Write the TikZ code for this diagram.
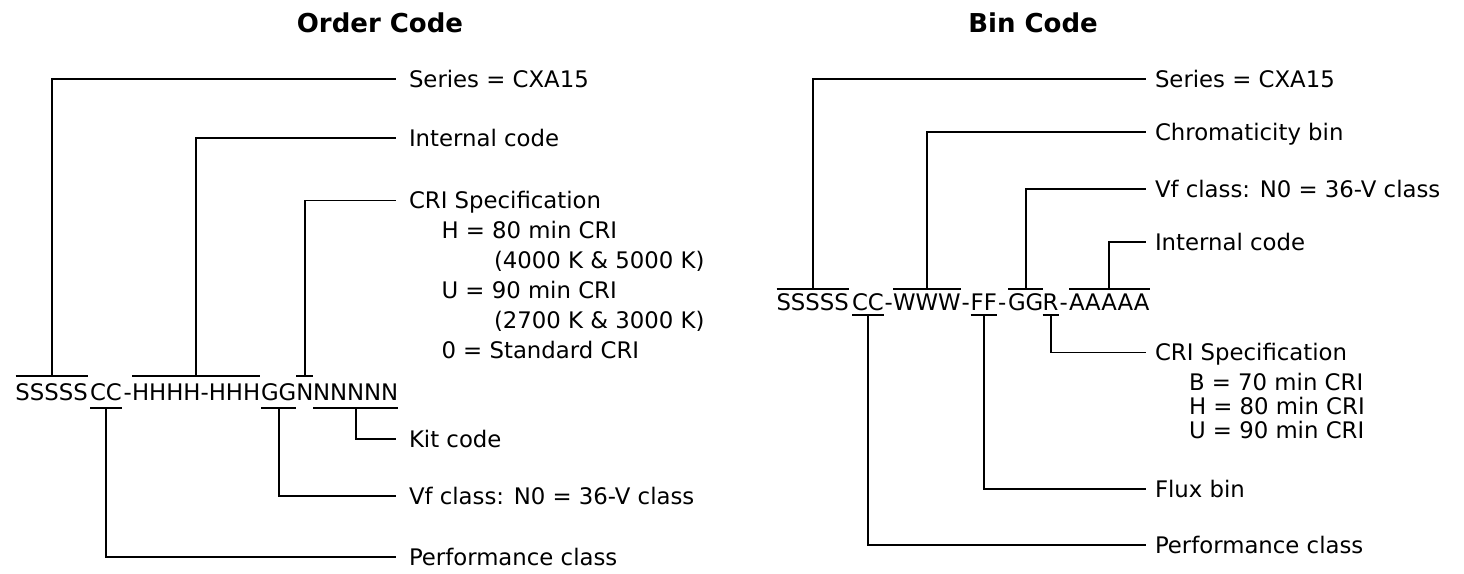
\documentclass[tikz,border=0pt]{standalone}
\usepackage{fontspec}
\setmainfont{DejaVu Sans}
\begin{document}
\begin{tikzpicture}[x=1pt,y=-1pt,line width=1.8pt,
  txt/.style={font=\fontsize{22.8pt}{27pt}\selectfont, inner sep=0pt, outer sep=0pt, text height=16.6pt, text depth=0pt},
  seg/.style={txt, anchor=base west},
  lab/.style={txt, anchor=west},
  ttl/.style={font=\fontsize{26pt}{30pt}\selectfont\bfseries, inner sep=0pt, outer sep=0pt, anchor=center}]
\useasboundingbox (0,0) rectangle (1464,573);

% titles
\node[ttl] (t1) at (380,23) {Order Code};
\node[ttl] (t2) at (1033,23) {Bin Code};

% ---------------- Order code ----------------
\node[seg] (ls) at (15.5,400.3) {SSSSS};
\node[seg] (lc) at (90,400.3) {CC};
\node[seg] (ld1) at (123.5,400.3) {-};
\node[seg] (lh) at (132,400.3) {HHHH-HHH};
\node[seg] (lg) at (261,400.3) {GG};
\node[seg] (ln) at (296.3,400.3) {N};
\node[seg] (lk) at (313,400.3) {NNNNN};

\node[lab] (Lser) at (409,79) {Series = CXA15};
\node[lab] (Lint) at (409,138) {Internal code};
\node[lab] (Lcri) at (409,200.5) {CRI Specification};
\node[lab] (Lcri1) at (441.5,230) {H = 80 min CRI};
\node[lab] (Lcri2) at (494,260) {(4000 K \& 5000 K)};
\node[lab] (Lcri3) at (441.5,290) {U = 90 min CRI};
\node[lab] (Lcri4) at (494,320) {(2700 K \& 3000 K)};
\node[lab] (Lcri5) at (441.5,350) {0 = Standard CRI};
\node[lab] (Lkit) at (409,439.3) {Kit code};
\node[lab] (Lvf) at (409,496) {Vf class: N0 = 36-V class};
\node[lab] (Lperf) at (409,556.7) {Performance class};

% overlines / underlines
\draw ([yshift=7.7pt]ls.north west) -- ([yshift=7.7pt]ls.north east);
\draw ([yshift=7.7pt]lh.north west) -- ([yshift=7.7pt]lh.north east);
\draw ([yshift=7.7pt]ln.north west) -- ([yshift=7.7pt]ln.north east);
\draw ([yshift=-7.7pt]lc.south west) -- ([yshift=-7.7pt]lc.south east);
\draw ([yshift=-7.7pt]lg.south west) -- ([yshift=-7.7pt]lg.south east);
\draw ([yshift=-7.7pt]lk.south west) -- ([yshift=-7.7pt]lk.south east);

% connectors
\draw ([yshift=7.7pt]ls.north) |- ([xshift=-13pt]Lser.west);
\draw ([yshift=7.7pt]lh.north) |- ([xshift=-13pt]Lint.west);
\draw ([yshift=7.7pt]ln.north) |- ([xshift=-13pt]Lcri.west);
\draw ([yshift=-7.7pt]lk.south) |- ([xshift=-13pt]Lkit.west);
\draw ([yshift=-7.7pt]lg.south) |- ([xshift=-13pt]Lvf.west);
\draw ([yshift=-7.7pt]lc.south) |- ([xshift=-13pt]Lperf.west);

% ---------------- Bin code ----------------
\node[seg] (rs) at (776.5,310.3) {SSSSS};
\node[seg] (rc) at (852,310.3) {CC};
\node[seg] (rd1) at (884.5,310.3) {-};
\node[seg] (rw) at (893,310.3) {WWW};
\node[seg] (rd2) at (961.5,310.3) {-};
\node[seg] (rf) at (970.7,310.3) {FF};
\node[seg] (rd3) at (998,310.3) {-};
\node[seg] (rg) at (1008,310.3) {GG};
\node[seg] (rr) at (1042.7,310.3) {R};
\node[seg] (rd4) at (1059.5,310.3) {-};
\node[seg] (ra) at (1069,310.3) {AAAAA};

\node[lab] (Rser) at (1155,79) {Series = CXA15};
\node[lab] (Rchr) at (1155,132.3) {Chromaticity bin};
\node[lab] (Rvf) at (1155,189.3) {Vf class: N0 = 36-V class};
\node[lab] (Rint) at (1155,242.3) {Internal code};
\node[lab] (Rcri) at (1155,352.5) {CRI Specification};
\node[lab] (Rcri1) at (1189,382.5) {B = 70 min CRI};
\node[lab] (Rcri2) at (1189,406.3) {H = 80 min CRI};
\node[lab] (Rcri3) at (1189,430) {U = 90 min CRI};
\node[lab] (Rflux) at (1155,489) {Flux bin};
\node[lab] (Rperf) at (1155,545) {Performance class};

\draw ([yshift=5pt]rs.north west) -- ([yshift=5pt]rs.north east);
\draw ([yshift=5pt]rw.north west) -- ([yshift=5pt]rw.north east);
\draw ([yshift=5pt]rg.north west) -- ([yshift=5pt]rg.north east);
\draw ([yshift=5pt]ra.north west) -- ([yshift=5pt]ra.north east);
\draw ([yshift=-4.7pt]rc.south west) -- ([yshift=-4.7pt]rc.south east);
\draw ([yshift=-4.7pt]rf.south west) -- ([yshift=-4.7pt]rf.south east);
\draw ([yshift=-4.7pt]rr.south west) -- ([yshift=-4.7pt]rr.south east);

\draw ([yshift=5pt]rs.north) |- ([xshift=-9.5pt]Rser.west);
\draw ([yshift=5pt]rw.north) |- ([xshift=-9.5pt]Rchr.west);
\draw ([yshift=5pt]rg.north) |- ([xshift=-9.5pt]Rvf.west);
\draw ([yshift=5pt]ra.north) |- ([xshift=-9.5pt]Rint.west);
\draw ([yshift=-4.7pt]rr.south) |- ([xshift=-9.5pt]Rcri.west);
\draw ([yshift=-4.7pt]rf.south) |- ([xshift=-9.5pt]Rflux.west);
\draw ([yshift=-4.7pt]rc.south) |- ([xshift=-9.5pt]Rperf.west);
\end{tikzpicture}
\end{document}
